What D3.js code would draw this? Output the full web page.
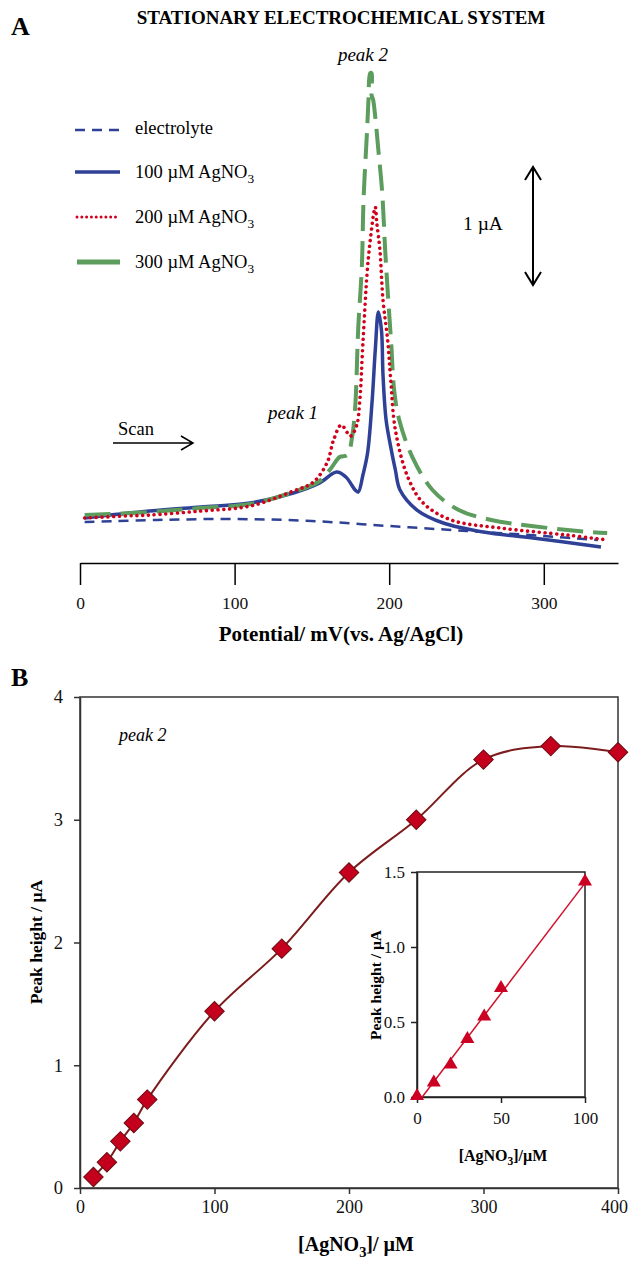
<!DOCTYPE html>
<html>
<head>
<meta charset="utf-8">
<script src="https://cdn.jsdelivr.net/npm/d3@7"></script>
<style>
  body { margin: 0; background: #fff; }
  svg { font-family: "Liberation Serif", "Times New Roman", serif; }
</style>
</head>
<body>
<div id="chart"></div>
<script>
// ---------- panel A: voltammograms (potential in mV, current in uA, arbitrary offset) ----------
var electrolyteMV = [3, 50, 100, 150, 200, 250, 300, 335];
var electrolyteUA = [0.350, 0.368, 0.376, 0.359, 0.316, 0.274, 0.231, 0.197];

var ag100MV = [3, 45, 78, 110, 138, 155, 166, 172, 178, 180, 183, 186, 189, 191, 193, 195, 196, 198, 201, 204, 207, 218, 235, 261, 293, 337];
var ag100UA = [0.385, 0.444, 0.479, 0.513, 0.598, 0.684, 0.778, 0.735, 0.624, 0.607, 0.752, 0.940, 1.393, 1.821, 2.145, 1.991, 1.607, 1.222, 0.991, 0.795, 0.624, 0.453, 0.342, 0.265, 0.214, 0.137];

var ag200MV = [3, 30, 45, 78, 110, 138, 151, 160, 164, 169, 175, 179, 181, 183, 186, 188, 190, 191, 192, 194, 196, 199, 201, 204, 212, 222, 240, 272, 315, 341];
var ag200UA = [0.385, 0.402, 0.410, 0.444, 0.487, 0.615, 0.692, 0.863, 1.051, 1.179, 1.085, 1.179, 1.393, 1.880, 2.530, 2.786, 2.991, 3.043, 2.906, 2.675, 2.248, 1.906, 1.564, 1.137, 0.735, 0.513, 0.368, 0.299, 0.239, 0.197];

var ag300MV = [3, 45, 78, 110, 138, 155, 162, 168, 173, 176, 178, 180, 182.3, 183.4, 185.6, 186.6, 187.7, 188.6, 188.6, 189.6, 191, 193, 195.5, 197.4, 199.4, 201.3, 203.2, 206.5, 215, 228, 245, 266, 292, 330, 341];
var ag300UA = [0.410, 0.436, 0.470, 0.504, 0.607, 0.701, 0.803, 0.906, 0.923, 1.077, 1.333, 2.017, 2.530, 3.103, 3.675, 3.957, 4.188, 4.188, 4.0, 3.96, 3.812, 3.530, 3.162, 2.675, 2.248, 1.880, 1.479, 1.222, 0.906, 0.624, 0.453, 0.368, 0.316, 0.265, 0.256];

var potentialTicks = [0, 100, 200, 300];

// ---------- panel B: peak 2 height vs concentration ----------
var concUM = [10, 20, 30, 40, 50, 100, 150, 200, 250, 300, 350, 400];
var peakUA = [0.09, 0.21, 0.38, 0.53, 0.72, 1.44, 1.95, 2.57, 3.00, 3.49, 3.60, 3.55];
var concTicks = [0, 100, 200, 300, 400];
var peakTicks = [0, 1, 2, 3, 4];

// inset: low concentration range
var insetConc = [0, 10, 20, 30, 40, 50, 100];
var insetPeak = [0.0, 0.09, 0.21, 0.38, 0.53, 0.72, 1.43];
var insetConcTicks = [0, 50, 100];
var insetPeakTicks = [0, 0.5, 1.0, 1.5];

var width = 630, height = 1262;
var serif = "Liberation Serif";
var blue = "#2e4196", red = "#d0021b", green = "#5c9c5c";

var svg = d3.select("#chart").append("svg")
    .attr("width", width)
    .attr("height", height);

// text with a subscript part, e.g. AgNO + 3
function subText(g, x, y, main, sub, tail, size, weight, anchor) {
    var t = g.append("text")
        .attr("x", x).attr("y", y)
        .attr("font-size", size)
        .attr("font-weight", weight || "normal")
        .attr("text-anchor", anchor || "start");
    t.append("tspan").text(main);
    t.append("tspan").attr("dy", size * 0.28).attr("font-size", size * 0.72).text(sub);
    t.append("tspan").attr("dy", -size * 0.28).text(tail);
    return t;
}

function styleAxis(a, size, col) {
    a.attr("font-family", serif);
    a.select(".domain").attr("stroke", col).attr("stroke-width", 1.5);
    a.selectAll(".tick line").attr("stroke", col).attr("stroke-width", 1.5);
    a.selectAll(".tick text").attr("font-size", size).attr("font-family", serif).attr("fill", "#111");
}

/* ===================== Panel A ===================== */
var xA = d3.scaleLinear().domain([0, 348]).range([80, 618]);
var yA = d3.scaleLinear().domain([0, 4.3]).range([563, 60]);

svg.append("text").attr("x", 11).attr("y", 35)
    .attr("font-size", 26).attr("font-weight", "bold").text("A");
svg.append("text").attr("x", 341).attr("y", 24)
    .attr("text-anchor", "middle").attr("font-size", 19).attr("font-weight", "bold")
    .text("STATIONARY ELECTROCHEMICAL SYSTEM");

var axA = svg.append("g")
    .attr("transform", "translate(0," + yA(0) + ")")
    .call(d3.axisBottom(xA).tickValues(potentialTicks).tickSize(22).tickSizeOuter(0).tickPadding(12));
styleAxis(axA, 17.5, "#000");

svg.append("text").attr("x", 341).attr("y", 641)
    .attr("text-anchor", "middle").attr("font-size", 21).attr("font-weight", "bold")
    .text("Potential/ mV(vs. Ag/AgCl)");

var series = [
    { mv: electrolyteMV, ua: electrolyteUA, color: blue, w: 2.5, dash: "10,7", cap: "butt" },
    { mv: ag100MV, ua: ag100UA, color: blue, w: 3.5, dash: null, cap: "butt" },
    { mv: ag300MV, ua: ag300UA, color: green, w: 4, dash: "26,10", cap: "butt" },
    { mv: ag200MV, ua: ag200UA, color: red, w: 3.6, dash: "0.01,5.8", cap: "round" }
];

var lineA = d3.line()
    .x(function(d) { return xA(d[0]); })
    .y(function(d) { return yA(d[1]); })
    .curve(d3.curveCatmullRom.alpha(0.5));

svg.append("g").selectAll("path")
    .data(series)
    .enter().append("path")
    .attr("d", function(s) { return lineA(d3.zip(s.mv, s.ua)); })
    .attr("fill", "none")
    .attr("stroke", function(s) { return s.color; })
    .attr("stroke-width", function(s) { return s.w; })
    .attr("stroke-dasharray", function(s) { return s.dash; })
    .attr("stroke-linecap", function(s) { return s.cap; })
    .attr("stroke-linejoin", "round");

// legend
var leg = svg.append("g");
leg.append("line").attr("x1", 75).attr("x2", 120).attr("y1", 130).attr("y2", 130)
    .attr("stroke", blue).attr("stroke-width", 2.5).attr("stroke-dasharray", "10,7");
leg.append("text").attr("x", 135).attr("y", 134).attr("font-size", 18.5).text("electrolyte");
leg.append("line").attr("x1", 75).attr("x2", 120).attr("y1", 172).attr("y2", 172)
    .attr("stroke", blue).attr("stroke-width", 3.5);
subText(leg, 135, 178, "100 \u00b5M AgNO", "3", "", 18.5);
leg.append("line").attr("x1", 77).attr("x2", 120).attr("y1", 217).attr("y2", 217)
    .attr("stroke", red).attr("stroke-width", 3).attr("stroke-dasharray", "0.01,4.8").attr("stroke-linecap", "round");
subText(leg, 135, 223, "200 \u00b5M AgNO", "3", "", 18.5);
leg.append("line").attr("x1", 77).attr("x2", 120).attr("y1", 262).attr("y2", 262)
    .attr("stroke", green).attr("stroke-width", 5);
subText(leg, 135, 268, "300 \u00b5M AgNO", "3", "", 18.5);

// 1 uA scale bar
svg.append("line").attr("x1", 533).attr("x2", 533).attr("y1", 167).attr("y2", 285)
    .attr("stroke", "#000").attr("stroke-width", 2);
svg.append("path").attr("d", "M525,180L533,167L541,180M525,272L533,285L541,272")
    .attr("fill", "none").attr("stroke", "#000").attr("stroke-width", 2);
svg.append("text").attr("x", 463).attr("y", 230).attr("font-size", 19.5).text("1 \u00b5A");

// scan arrow
svg.append("text").attr("x", 118).attr("y", 435).attr("font-size", 18.5).text("Scan");
svg.append("path").attr("d", "M113,443L193,443M181,436L193,443L181,450")
    .attr("fill", "none").attr("stroke", "#000").attr("stroke-width", 1.5);

svg.append("text").attr("x", 268).attr("y", 419).attr("font-size", 19).attr("font-style", "italic").text("peak 1");
svg.append("text").attr("x", 363).attr("y", 61).attr("text-anchor", "middle")
    .attr("font-size", 19).attr("font-style", "italic").text("peak 2");

/* ===================== Panel B ===================== */
var xB = d3.scaleLinear().domain([0, 400]).range([80, 618]);
var yB = d3.scaleLinear().domain([0, 4]).range([1188, 697]);

svg.append("text").attr("x", 11).attr("y", 686)
    .attr("font-size", 26).attr("font-weight", "bold").text("B");

// frame
svg.append("rect").attr("x", xB(0)).attr("y", yB(4))
    .attr("width", xB(400) - xB(0)).attr("height", yB(0) - yB(4))
    .attr("fill", "none").attr("stroke", "#333").attr("stroke-width", 1.5);

var axBx = svg.append("g").attr("transform", "translate(0," + yB(0) + ")")
    .call(d3.axisBottom(xB).tickValues(concTicks).tickFormat(d3.format("d")).tickSize(6).tickSizeOuter(0).tickPadding(6));
var axBy = svg.append("g").attr("transform", "translate(" + xB(0) + ",0)")
    .call(d3.axisLeft(yB).tickValues(peakTicks).tickFormat(d3.format("d")).tickSize(6).tickSizeOuter(0).tickPadding(11));
styleAxis(axBx, 18, "#333");
styleAxis(axBy, 18.5, "#333");
// keep the last label inside the page edge
axBx.selectAll(".tick text").filter(function(d) { return d === 400; }).attr("dx", -4);

svg.append("text").attr("transform", "translate(42,942) rotate(-90)")
    .attr("text-anchor", "middle").attr("font-size", 17.5).attr("font-weight", "bold")
    .text("Peak height / \u00b5A");
subText(svg, 356, 1251, "[AgNO", "3", "]/ \u00b5M", 20, "bold", "middle");

svg.append("text").attr("x", 119).attr("y", 741).attr("font-size", 18).attr("font-style", "italic").text("peak 2");

var lineB = d3.line()
    .x(function(d) { return xB(d[0]); })
    .y(function(d) { return yB(d[1]); })
    .curve(d3.curveCatmullRom.alpha(0.5));

svg.append("path").attr("d", lineB(d3.zip(concUM, peakUA)))
    .attr("fill", "none").attr("stroke", "#7d1c1c").attr("stroke-width", 2);

var diamond = d3.symbol().type(d3.symbolSquare).size(190);
svg.append("g").selectAll("path")
    .data(d3.zip(concUM, peakUA))
    .enter().append("path")
    .attr("d", diamond)
    .attr("transform", function(d) { return "translate(" + xB(d[0]) + "," + yB(d[1]) + ") rotate(45)"; })
    .attr("fill", "#c4001c").attr("stroke", "#6a0b12").attr("stroke-width", 1);

/* ----- inset ----- */
var xI = d3.scaleLinear().domain([0, 100]).range([417, 585]);
var yI = d3.scaleLinear().domain([0, 1.5]).range([1097, 872]);

svg.append("rect").attr("x", xI(0)).attr("y", yI(1.5))
    .attr("width", xI(100) - xI(0)).attr("height", yI(0) - yI(1.5))
    .attr("fill", "#fff").attr("stroke", "#222").attr("stroke-width", 1.5);

var axIx = svg.append("g").attr("transform", "translate(0," + yI(0) + ")")
    .call(d3.axisBottom(xI).tickValues(insetConcTicks).tickFormat(d3.format("d")).tickSize(6).tickSizeOuter(0).tickPadding(9));
var axIy = svg.append("g").attr("transform", "translate(" + xI(0) + ",0)")
    .call(d3.axisLeft(yI).tickValues(insetPeakTicks).tickFormat(d3.format(".1f")).tickSize(6).tickSizeOuter(0).tickPadding(6));
styleAxis(axIx, 17, "#222");
styleAxis(axIy, 17, "#222");

svg.append("text").attr("transform", "translate(381,985) rotate(-90)")
    .attr("text-anchor", "middle").attr("font-size", 15.5).attr("font-weight", "bold")
    .text("Peak height / \u00b5A");
subText(svg, 503, 1161, "[AgNO", "3", "]/\u00b5M", 16, "bold", "middle");

// least squares line through the inset points
var mx = d3.mean(insetConc), my = d3.mean(insetPeak);
var sxy = d3.sum(insetConc, function(x, i) { return (x - mx) * (insetPeak[i] - my); });
var sxx = d3.sum(insetConc, function(x) { return (x - mx) * (x - mx); });
var slope = sxy / sxx, intercept = my - slope * mx;
var x0 = -intercept / slope;
svg.append("line")
    .attr("x1", xI(x0)).attr("y1", yI(0))
    .attr("x2", xI(100)).attr("y2", yI(slope * 100 + intercept))
    .attr("stroke", "#d0112b").attr("stroke-width", 1.5);

var tri = d3.symbol().type(d3.symbolTriangle).size(85);
svg.append("g").selectAll("path")
    .data(d3.zip(insetConc, insetPeak))
    .enter().append("path")
    .attr("d", tri)
    .attr("transform", function(d) { return "translate(" + xI(d[0]) + "," + (yI(d[1]) - 1) + ")"; })
    .attr("fill", "#cc0022");
</script>
</body>
</html>
